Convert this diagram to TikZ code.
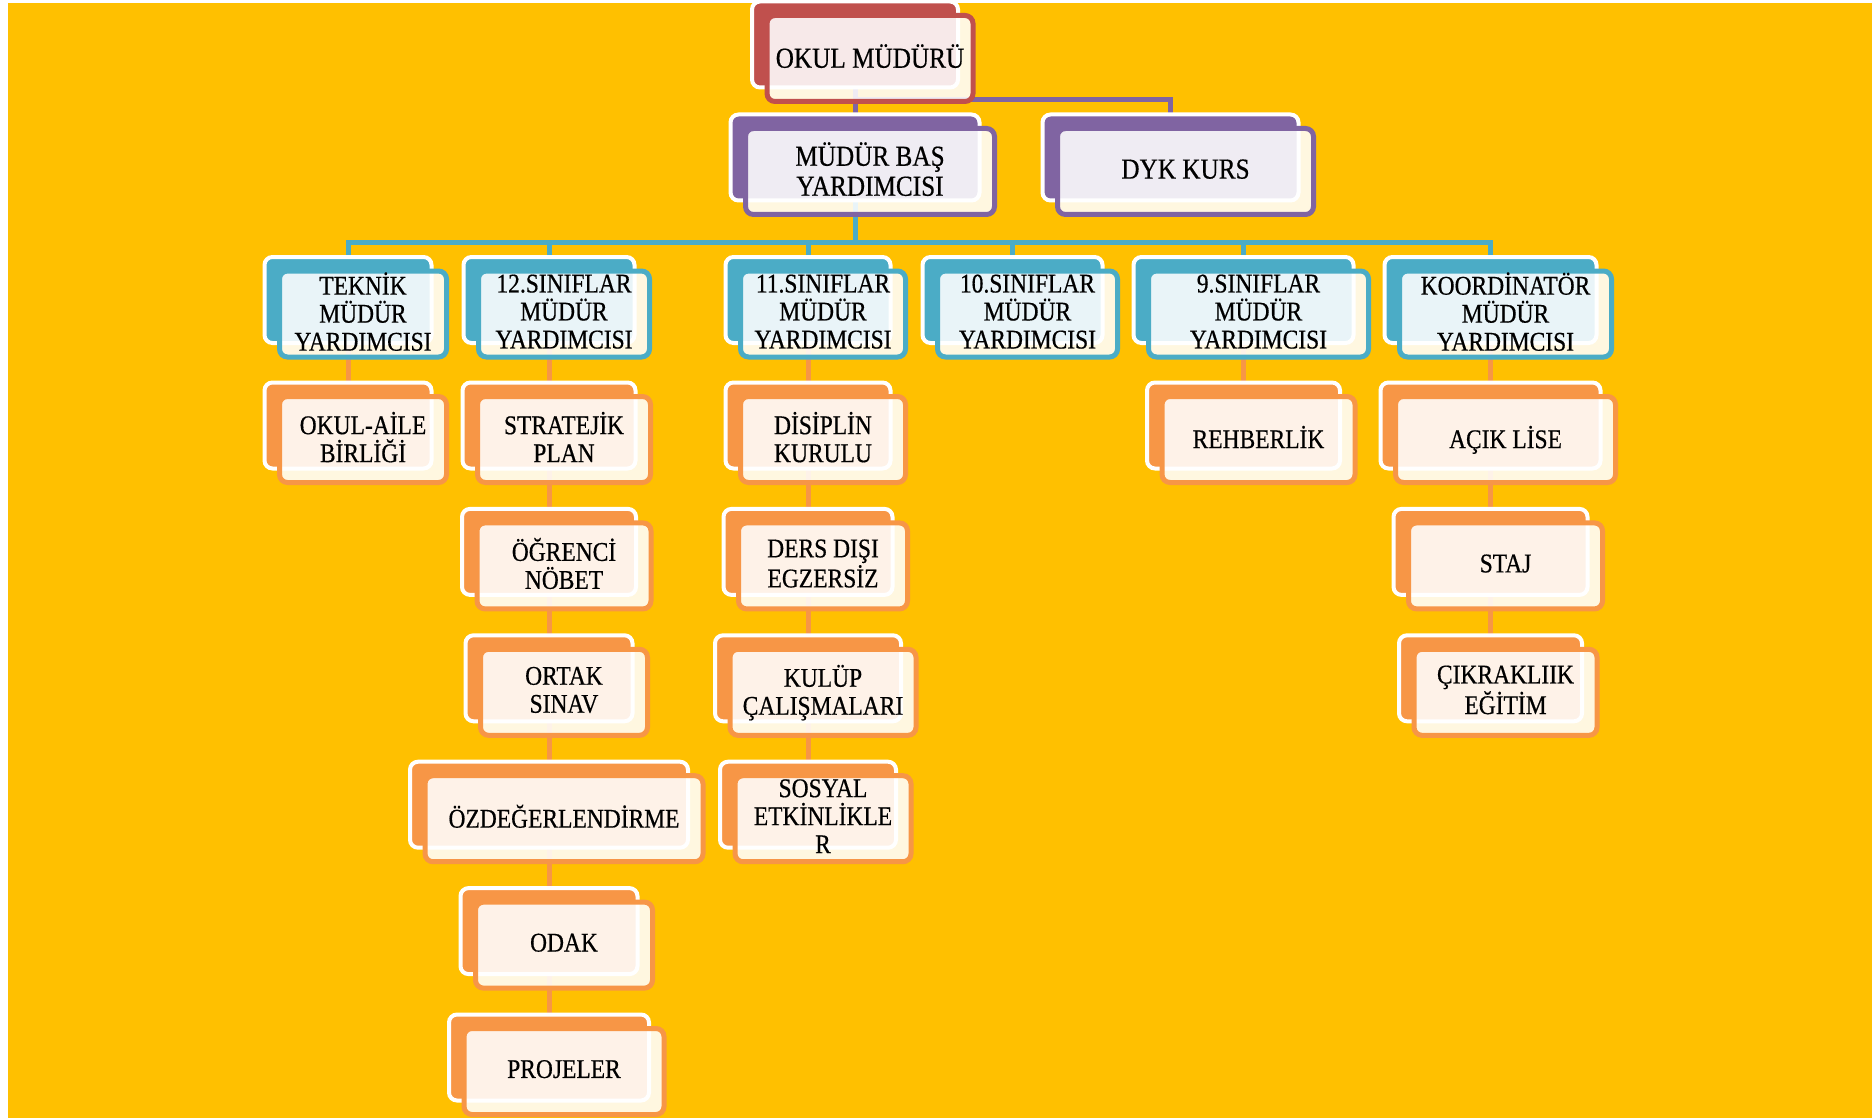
\documentclass[tikz,border=0pt]{standalone}
\usepackage{fontspec}
\setmainfont{Liberation Serif}[FakeStretch=0.87, FakeBold=0.5]
\definecolor{zemin}{HTML}{FFC000}
\definecolor{mudurred}{HTML}{C0504D}
\definecolor{yardpurple}{HTML}{8064A2}
\definecolor{sinifblue}{HTML}{4BACC6}
\definecolor{gorevorange}{HTML}{F79646}
\pgfdeclarelayer{background}
\pgfsetlayers{background,main}
\tikzset{
  chartbox/.style = {shape=rectangle, rounded corners=4pt, align=center,
                     draw=#1, line width=2.5pt,
                     fill=white, fill opacity=0.88, text opacity=1,
                     inner sep=0pt, minimum height=43pt, text depth=2.5pt,
                     preaction={fill=#1, fill opacity=1, draw=white, line width=2pt,
                                transform canvas={xshift=-7.5pt, yshift=7pt}}},
  headbox/.style  = {chartbox=mudurred, font=\fontsize{14.5}{15}\selectfont},
  yardbox/.style  = {chartbox=yardpurple, font=\fontsize{14.5}{15}\selectfont},
  sinifbox/.style = {chartbox=sinifblue},
  gorevbox/.style = {chartbox=gorevorange},
  bk/.style       = {xshift=-7.5pt, yshift=7pt},
  conn/.style     = {draw=#1, line width=2.5pt}
}

\begin{document}
\begin{tikzpicture}
  [
    x                 = 0.5pt,
    y                 = -0.5pt,
    every node/.style = {font=\fontsize{13.5}{14}\selectfont}
  ]
  \useasboundingbox (0,0) rectangle (1872,1118);
  % top
  \node [headbox, minimum width=103pt]   (okul) at (870,58.5)    {OKUL MÜDÜRÜ};
  \node [yardbox, minimum width=124.5pt] (mba)  at (870,171.5)   {MÜDÜR BAŞ\\YARDIMCISI};
  \node [yardbox, minimum width=128pt]   (dyk)  at (1185.5,171.5) {DYK KURS};
  % yardimcilar
  \node [sinifbox, minimum width=83.5pt] (teknik)  at (363,314)    {TEKNİK\\MÜDÜR\\YARDIMCISI};
  \node [sinifbox, minimum width=85.5pt] (sinif12) at (564,314)    {12.SINIFLAR\\MÜDÜR\\YARDIMCISI};
  \node [sinifbox, minimum width=82.5pt] (sinif11) at (823,314)    {11.SINIFLAR\\MÜDÜR\\YARDIMCISI};
  \node [sinifbox, minimum width=90pt]   (sinif10) at (1027.5,314) {10.SINIFLAR\\MÜDÜR\\YARDIMCISI};
  \node [sinifbox, minimum width=110pt]  (sinif9)  at (1258.5,314) {9.SINIFLAR\\MÜDÜR\\YARDIMCISI};
  \node [sinifbox, minimum width=106pt]  (koord)   at (1505.5,314) {KOORDİNATÖR\\MÜDÜR\\YARDIMCISI};
  % gorevler
  \node [gorevbox, minimum width=83.5pt] (okulaile)  at (363,439.5)    {OKUL-AİLE\\BİRLİĞİ};
  \node [gorevbox, minimum width=86.5pt] (stratejik) at (564,439.5)    {STRATEJİK\\PLAN};
  \node [gorevbox, minimum width=87pt]   (ogrenci)   at (564,565.9)    {ÖĞRENCİ\\NÖBET};
  \node [gorevbox, minimum width=83.5pt] (ortak)     at (564,692.3)    {ORTAK\\SINAV};
  \node [gorevbox, minimum width=139pt]  (ozdeg)     at (564,818.7)    {ÖZDEĞERLENDİRME};
  \node [gorevbox, minimum width=88.5pt] (odak)      at (564,945.1)    {ODAK};
  \node [gorevbox, minimum width=100pt]  (projeler)  at (564,1071.5)   {PROJELER};
  \node [gorevbox, minimum width=82.5pt] (disiplin)  at (823,439.5)    {DİSİPLİN\\KURULU};
  \node [gorevbox, minimum width=84.5pt] (dersdisi)  at (823,565.9)    {DERS DIŞI\\EGZERSİZ};
  \node [gorevbox, minimum width=93pt]   (kulup)     at (823,692.3)    {KULÜP\\ÇALIŞMALARI};
  \node [gorevbox, minimum width=88pt]   (sosyal)    at (823,818.7)    {SOSYAL\\ETKİNLİKLE\\R};
  \node [gorevbox, minimum width=96.5pt] (rehberlik) at (1258.5,439.5) {REHBERLİK};
  \node [gorevbox, minimum width=110pt]  (aciklise)  at (1505.5,439.5) {AÇIK LİSE};
  \node [gorevbox, minimum width=97pt]   (staj)      at (1505.5,565.9) {STAJ};
  \node [gorevbox, minimum width=91.5pt] (cikraklik) at (1505.5,692.3) {ÇIKRAKLIIK\\EĞİTİM};
  % lines behind the boxes
  \begin{pgfonlayer}{background}
    \fill [white] (0,0) rectangle (1872,1118);
    \fill [zemin] (8,3) rectangle (1872,1118);
    \coordinate (yardbus)  at (855,100);
    \coordinate (sinifbus) at (855,243);
    \foreach \c in {mba,dyk}
      \draw [conn=yardpurple] ([bk]okul.center) |- (yardbus) -| ([bk]\c.center);
    \foreach \c in {teknik,sinif12,sinif11,sinif10,sinif9,koord}
      \draw [conn=sinifblue] ([bk]mba.center) |- (sinifbus) -| ([bk]\c.center);
    \foreach \ust/\alt in {teknik/okulaile, sinif12/stratejik, stratejik/ogrenci,
        ogrenci/ortak, ortak/ozdeg, ozdeg/odak, odak/projeler,
        sinif11/disiplin, disiplin/dersdisi, dersdisi/kulup, kulup/sosyal,
        sinif9/rehberlik, koord/aciklise, aciklise/staj, staj/cikraklik}
      \draw [conn=gorevorange] ([bk]\ust.center) -- ([bk]\alt.center);
  \end{pgfonlayer}
\end{tikzpicture}
\end{document}
